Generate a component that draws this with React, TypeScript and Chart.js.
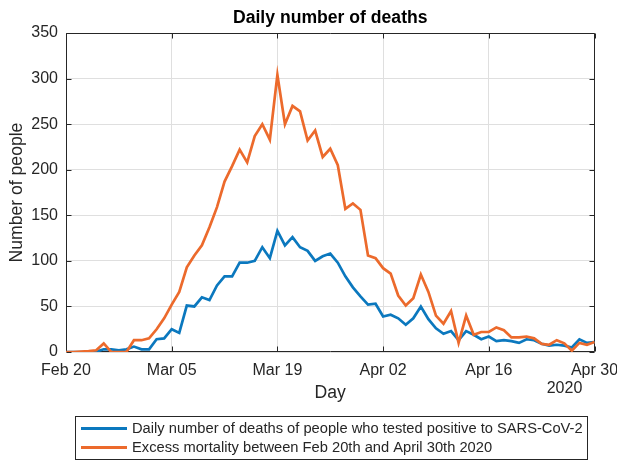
import React, { useEffect, useRef } from 'react';
import { Chart, registerables } from 'chart.js';

Chart.register(...registerables);

// ---- Data ----
const monthSpans: [string, number, number][] = [
  ['Feb', 20, 29],
  ['Mar', 1, 31],
  ['Apr', 1, 30],
];
const dayLabels: string[] = [];
monthSpans.forEach(([m, a, b]) => {
  for (let d = a; d <= b; d++) dayLabels.push(`${m} ${String(d).padStart(2, '0')}`);
});

const tickLabels = ['Feb 20', 'Mar 05', 'Mar 19', 'Apr 02', 'Apr 16', 'Apr 30'];
const yTicks = [0, 50, 100, 150, 200, 250, 300, 350];

const positiveDeaths = [
  0, 0, 0, 0, 0.5, 3, 3, 2, 3, 6,
  3, 3, 14, 15, 25, 21, 51, 50, 60, 57,
  73, 83, 83, 98, 98, 100, 115, 103, 133, 117,
  126, 115, 111, 100, 105, 108, 98, 83, 71, 61,
  52, 53, 39, 41, 37, 30, 37, 50, 36, 26,
  20, 23, 13, 23, 19, 14, 17, 12, 13, 12,
  10, 14, 13, 9, 7, 8, 7, 5, 14, 10,
  11,
];

const excessMortality = [
  0, 0, 0.5, 1, 2, 9.5, 0, 0, 0, 13,
  13, 15, 25, 37, 52, 66, 93, 106, 117, 137,
  159, 187, 204, 222, 208, 237, 250, 233, 304, 250,
  270, 264, 232, 243, 214, 223, 205, 157, 163, 156,
  106, 103, 92, 86, 62, 51, 59, 85, 66, 40,
  31, 45, 10, 40, 19, 22, 22, 27, 24, 16,
  16, 17, 15, 9, 8, 13, 9.5, 1.5, 10, 8,
  11,
];

const seriesNames = [
  'Daily number of deaths of people who tested positive to SARS-CoV-2',
  'Excess mortality between Feb 20th and April 30th 2020',
];
const BLUE = '#0B78BE';
const ORANGE = '#EC6A2C';
const TEXT = '#262626';
const FONT = "'Liberation Sans', Arial, Helvetica, sans-serif";

const framePlugin = {
  id: 'frame',
  beforeDatasetsDraw(chart: any) {
    const { ctx, chartArea } = chart;
    const { left, right, top, bottom } = chartArea;
    const xs = chart.scales.x;
    const ys = chart.scales.y;
    ctx.save();
    ctx.strokeStyle = TEXT;
    ctx.lineWidth = 1;
    const L = Math.round(left) + 0.5;
    const R = Math.round(right) - 0.5;
    const T = Math.round(top) + 0.5;
    const B = Math.round(bottom) - 0.5;
    ctx.beginPath();
    ctx.rect(L, T, R - L, B - T);
    ctx.stroke();
    const tl = 5;
    ctx.beginPath();
    yTicks.forEach((v) => {
      const py = Math.round(ys.getPixelForValue(v)) + 0.5;
      ctx.moveTo(L, py);
      ctx.lineTo(L + tl, py);
      ctx.moveTo(R, py);
      ctx.lineTo(R - tl, py);
    });
    tickLabels.forEach((lab) => {
      const i = dayLabels.indexOf(lab);
      const px = Math.round(xs.getPixelForValue(i)) + 0.5;
      ctx.moveTo(px, B);
      ctx.lineTo(px, B - tl);
      ctx.moveTo(px, T);
      ctx.lineTo(px, T + tl);
    });
    ctx.stroke();
    ctx.restore();
  },
  afterDraw(chart: any) {
    const { ctx } = chart;
    ctx.save();
    // secondary x label (year)
    ctx.fillStyle = TEXT;
    ctx.font = `16px ${FONT}`;
    ctx.textAlign = 'center';
    ctx.textBaseline = 'middle';
    ctx.fillText('2020', 564.5, 389);

    // legend box
    ctx.strokeStyle = TEXT;
    ctx.lineWidth = 1;
    ctx.fillStyle = '#ffffff';
    ctx.fillRect(75.5, 416.5, 512, 43);
    ctx.strokeRect(75.5, 416.5, 512, 43);
    const rows = [428.5, 447.5];
    const colors = [BLUE, ORANGE];
    ctx.font = `14.7px ${FONT}`;
    ctx.textAlign = 'left';
    seriesNames.forEach((name, i) => {
      ctx.strokeStyle = colors[i];
      ctx.lineWidth = 2.8;
      ctx.beginPath();
      ctx.moveTo(81, rows[i]);
      ctx.lineTo(127, rows[i]);
      ctx.stroke();
      ctx.fillStyle = TEXT;
      ctx.fillText(name, 132, rows[i]);
    });
    ctx.restore();
  },
};

export default function App() {
  const canvasRef = useRef<HTMLCanvasElement | null>(null);

  useEffect(() => {
    if (!canvasRef.current) return;
    Chart.defaults.font.family = FONT;
    const chart = new Chart(canvasRef.current, {
      type: 'line',
      data: {
        labels: dayLabels,
        datasets: [
          {
            label: seriesNames[0],
            data: positiveDeaths,
            borderColor: BLUE,
            backgroundColor: BLUE,
            borderWidth: 2.7,
            pointRadius: 0,
            tension: 0,
            order: 1,
          },
          {
            label: seriesNames[1],
            data: excessMortality,
            borderColor: ORANGE,
            backgroundColor: ORANGE,
            borderWidth: 2.7,
            pointRadius: 0,
            tension: 0,
            order: 0,
          },
        ],
      },
      options: {
        animation: false,
        responsive: true,
        maintainAspectRatio: false,
        layout: { padding: { left: 0, right: 22.5, top: 0, bottom: 53.4 } },
        plugins: {
          legend: { display: false },
          tooltip: { enabled: false },
          title: {
            display: true,
            text: 'Daily number of deaths',
            fullSize: false,
            color: '#000000',
            font: { size: 17.6, weight: 'bold' },
            padding: { top: 7.44, bottom: 4.44 },
          },
        },
        scales: {
          x: {
            type: 'category',
            offset: false,
            border: { display: false },
            grid: {
              drawTicks: false,
              lineWidth: 1,
              color: (c: any) =>
                tickLabels.includes(dayLabels[c.index]) ? '#DFDFDF' : 'rgba(0,0,0,0)',
            },
            ticks: {
              autoSkip: false,
              maxRotation: 0,
              minRotation: 0,
              padding: 9,
              color: TEXT,
              font: { size: 16 },
              callback: (_v: any, i: number) =>
                tickLabels.includes(dayLabels[i]) ? dayLabels[i] : '',
            },
            title: {
              display: true,
              text: 'Day',
              color: TEXT,
              font: { size: 17.6 },
              padding: { top: 0, bottom: 4 },
            },
            afterFit: (s: any) => {
              s.height = 55.56;
              s.paddingLeft = 0;
              s.paddingRight = 0;
            },
          },
          y: {
            min: 0,
            max: 350,
            border: { display: false },
            grid: { drawTicks: false, color: '#DFDFDF', lineWidth: 1 },
            ticks: {
              stepSize: 50,
              padding: 8,
              color: TEXT,
              font: { size: 16 },
            },
            title: {
              display: true,
              text: 'Number of people',
              color: TEXT,
              font: { size: 17.6 },
              padding: { top: 6.44, bottom: 0 },
            },
            afterFit: (s: any) => {
              s.width = 66;
              s.paddingTop = 0;
              s.paddingBottom = 0;
            },
          },
        },
      },
      plugins: [framePlugin],
    });
    return () => chart.destroy();
  }, []);

  return (
    <div style={{ position: 'fixed', left: 0, top: 0, width: 617, height: 461, background: '#fff' }}>
      <canvas ref={canvasRef} />
    </div>
  );
}
